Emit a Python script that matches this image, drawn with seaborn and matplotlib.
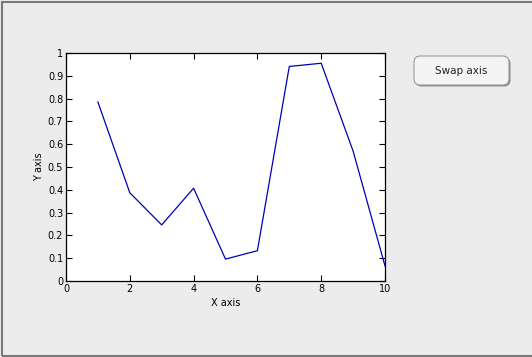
import matplotlib
matplotlib.use("Agg")
import matplotlib.pyplot as plt
import seaborn as sns
import pandas as pd
from matplotlib.patches import FancyBboxPatch, Rectangle

x_vals = [1, 2, 3, 4, 5, 6, 7, 8, 9, 10]
y_vals = [0.785, 0.387, 0.246, 0.407, 0.096, 0.133, 0.941, 0.955, 0.570, 0.066]
x_ticks = [0, 2, 4, 6, 8, 10]
y_ticks = [0, 0.1, 0.2, 0.3, 0.4, 0.5, 0.6, 0.7, 0.8, 0.9, 1]
y_tick_labels = ["0", "0.1", "0.2", "0.3", "0.4", "0.5", "0.6", "0.7", "0.8", "0.9", "1"]
x_label = "X axis"
y_label = "Y axis"
button_text = "Swap axis"

df = pd.DataFrame({"x": x_vals, "y": y_vals})

W, H = 532, 357
fig = plt.figure(figsize=(W / 100, H / 100), dpi=100)
fig.patch.set_facecolor("#ececec")

# window frame
fig.add_artist(Rectangle((1.5 / W, 1.5 / H), (W + 10) / W, (H - 3.5) / H,
                         transform=fig.transFigure, fill=False,
                         edgecolor="#7a7a7a", linewidth=1.5))

ax = fig.add_axes([66 / W, (H - 281) / H, (385 - 66) / W, (281 - 53) / H])
ax.set_facecolor("white")
sns.lineplot(data=df, x="x", y="y", ax=ax, color="#0000b4", linewidth=0.9)

ax.set_xlim(0, 10)
ax.set_ylim(0, 1)
ax.set_xticks(x_ticks)
ax.set_xticklabels([str(t) for t in x_ticks])
ax.set_yticks(y_ticks)
ax.set_yticklabels(y_tick_labels)
ax.tick_params(direction="in", top=True, right=True, length=4, width=0.8,
               labelsize=7, pad=2, colors="black")
for s in ax.spines.values():
    s.set_linewidth(0.9)
    s.set_color("black")
ax.set_xlabel(x_label, fontsize=7, labelpad=3)
ax.set_ylabel(y_label, fontsize=7, labelpad=3)

# button
bx0, by0, bw, bh = 414, 56, 95, 29
fig.add_artist(FancyBboxPatch(((bx0 + 1.5) / W, (H - by0 - bh - 1.5) / H), bw / W, bh / H,
                              boxstyle="round,pad=0,rounding_size=0.012",
                              transform=fig.transFigure, facecolor="#8a8a8a",
                              edgecolor="none", mutation_aspect=W / H))
fig.add_artist(FancyBboxPatch((bx0 / W, (H - by0 - bh) / H), bw / W, bh / H,
                              boxstyle="round,pad=0,rounding_size=0.012",
                              transform=fig.transFigure, facecolor="#f4f4f4",
                              edgecolor="#9a9a9a", linewidth=0.8, mutation_aspect=W / H))
fig.text((bx0 + bw / 2) / W, (H - by0 - bh / 2) / H, button_text,
         ha="center", va="center", fontsize=7.5, color="#222222")

fig.savefig("out.png", dpi=100, facecolor=fig.get_facecolor())
